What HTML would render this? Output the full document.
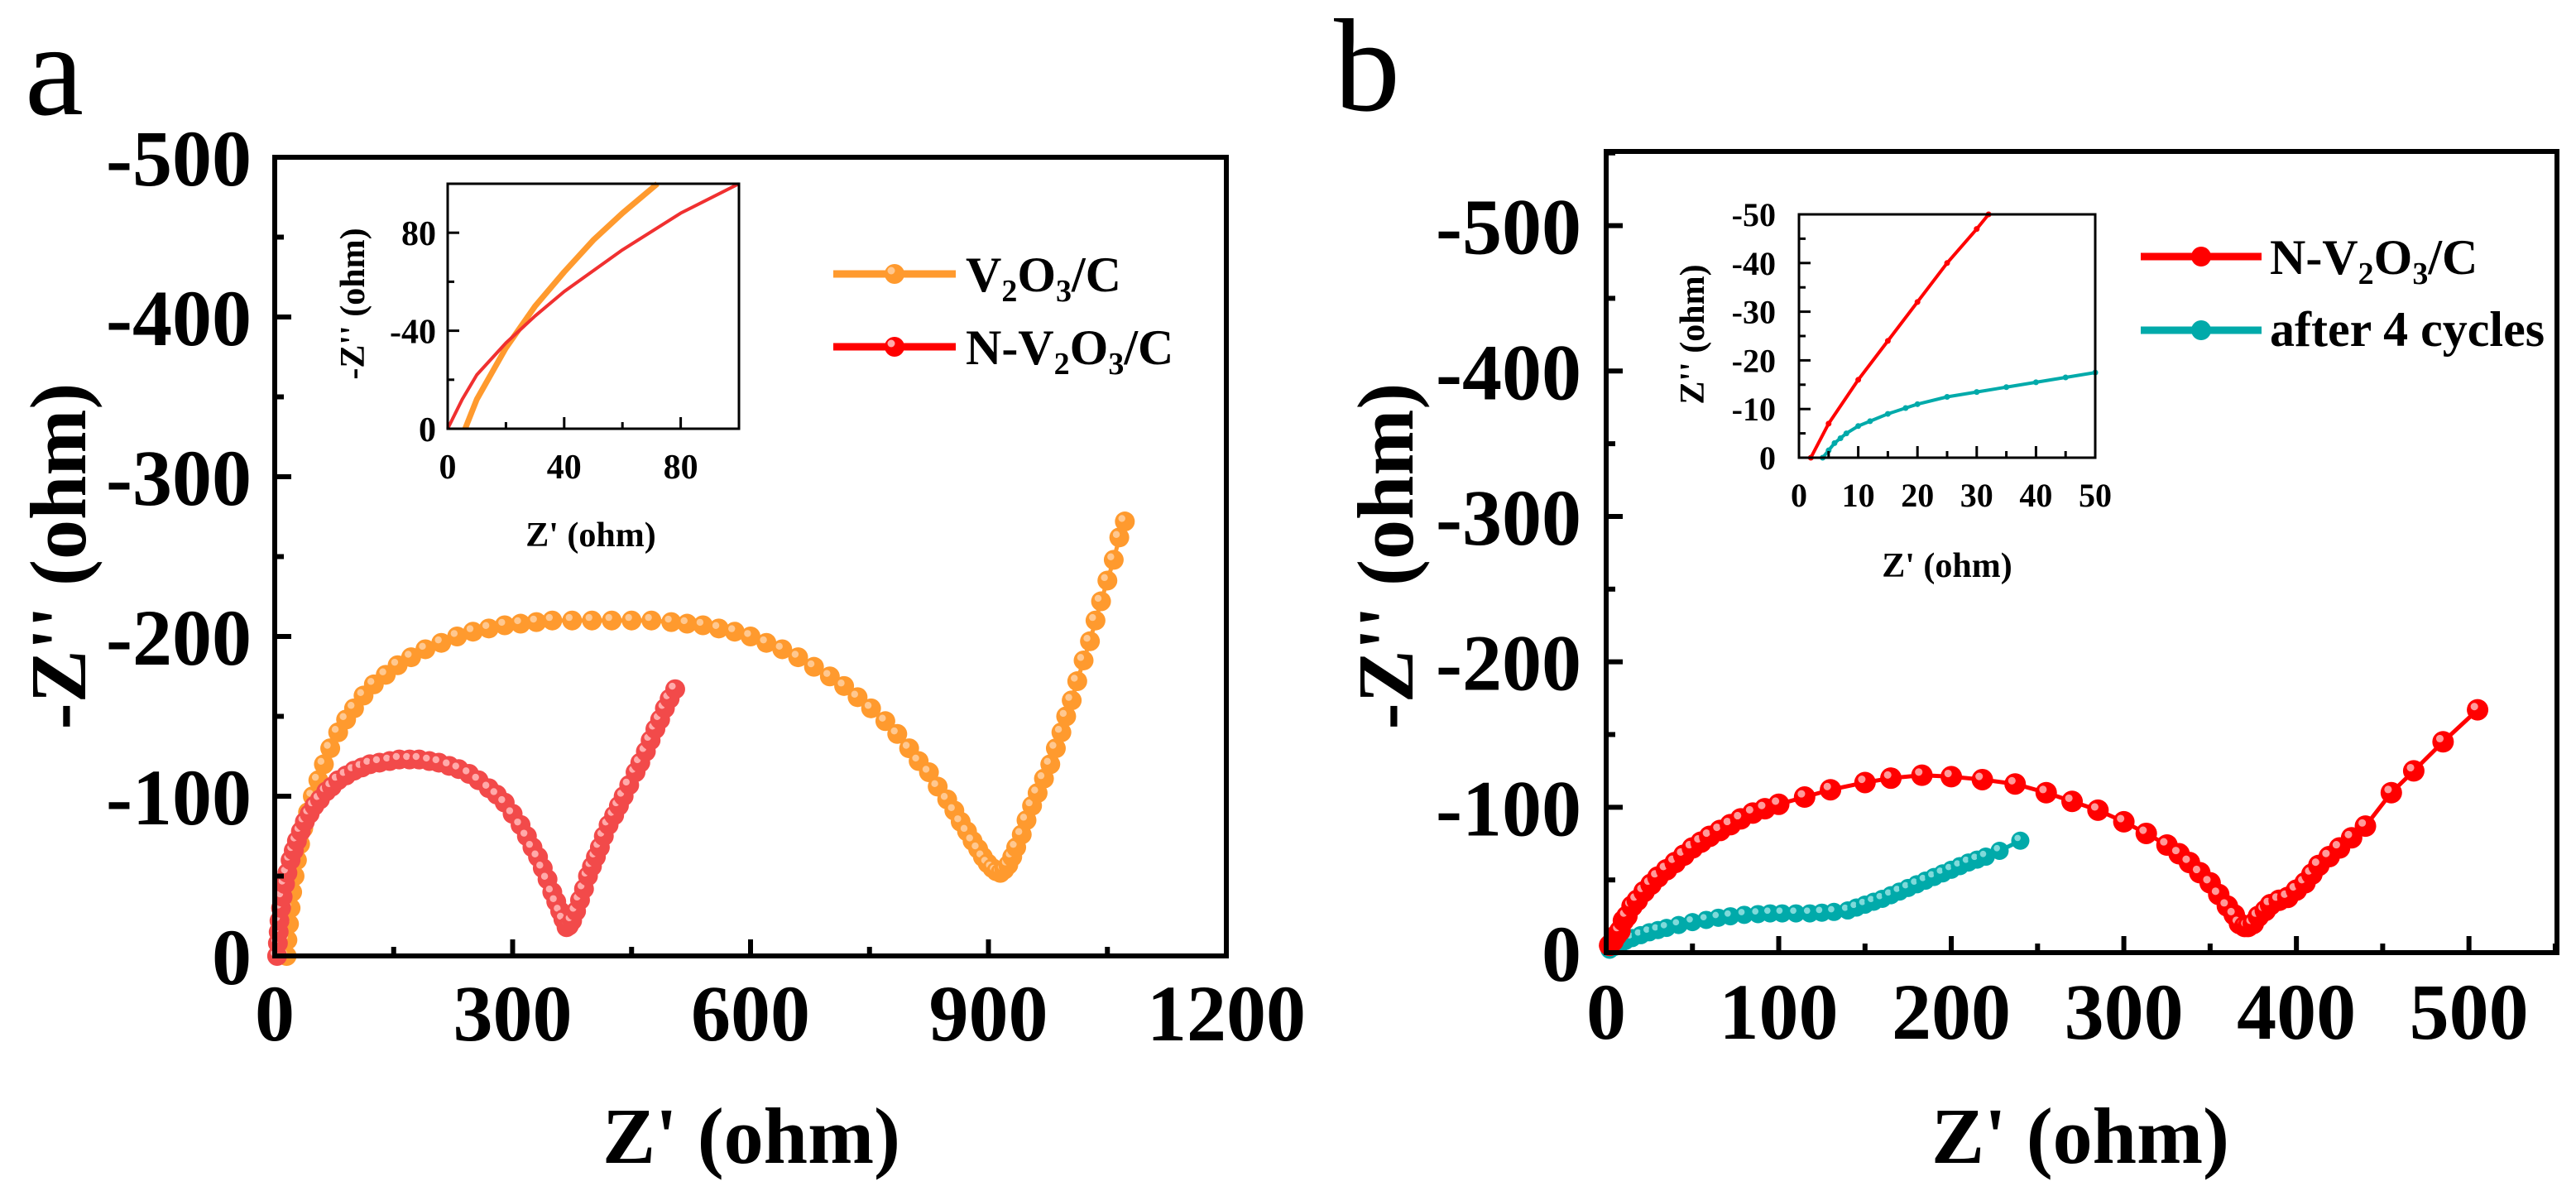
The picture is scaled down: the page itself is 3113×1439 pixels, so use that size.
<!DOCTYPE html>
<html><head><meta charset="utf-8">
<style>
html,body{margin:0;padding:0;background:#fff;}
svg{display:block;font-family:"Liberation Serif",serif;}
</style></head>
<body>
<svg id="fig" width="3113" height="1439" viewBox="0 0 3113 1439" xmlns="http://www.w3.org/2000/svg"></svg>
<script>
// ---- Panel a data ----
const aOrangeX = [15,16,18,20,22,25,28,32,36,42,48,55,62,70,80,90,100,112,125,140,155,172,190,210,230,250,270,290,310,330,350,375,400,425,450,475,500,520,540,560,580,600,620,640,660,680,700,718,735,752,770,785,800,812,825,836,848,857,865,873,880,887,893,899,905,910,915,920,925,930,935,942,948,955,962,970,978,985,992,998,1005,1012,1020,1028,1035,1042,1050,1058,1065,1072];
const aOrangeY = [0,10,20,30,40,50,60,70,80,90,100,110,120,130,140,148,155,163,170,176,182,187,192,196,200,203,205,207,208,209,210,210,210,210,210,210,209,208,207,205,203,200,196,192,187,181,175,169,162,155,147,139,130,122,115,106,98,91,84,78,72,67,62,58,55,53,52,54,57,62,68,76,85,94,102,111,120,130,140,150,160,172,185,197,210,222,235,248,262,272];
const aRedX = [3,4,5,6,8,10,13,16,20,24,28,33,38,44,50,57,65,72,80,90,100,110,120,132,145,157,170,182,195,207,220,232,245,257,270,280,290,300,310,318,325,332,338,344,350,355,360,364,368,371,375,380,385,390,395,400,405,410,415,421,428,434,440,447,455,461,468,474,480,486,492,498,505];
const aRedY = [0,8,15,22,30,37,45,52,60,66,72,78,84,89,94,98,103,106,110,113,116,118,120,121,122,123,123,123,122,121,119,117,114,110,105,101,96,89,82,75,68,62,55,48,40,34,28,23,18,19,22,28,35,42,50,56,62,68,75,82,88,94,100,107,115,121,128,135,142,148,155,161,167];
const aInsetRedX = [0,5,10,20,30,40,60,80,100];
const aInsetRedY = [0,12,22,35,46,56,73,88,100];
const aInsetOrangeX = [6,10,20,30,40,50,60,72];
const aInsetOrangeY = [0,12,33,50,64,77,88,100];
const aXTicks = [0,300,600,900,1200];
const aYTicks = [0,100,200,300,400,500];
const aYTickLabels = ["0","-100","-200","-300","-400","-500"];
// ---- Panel b data ----
const bRedX = [2,4,6,8,10,12,15,18,22,26,30,35,40,45,50,55,60,66,72,78,85,92,100,115,130,150,165,183,200,218,237,255,270,285,300,313,325,332,338,344,350,355,360,364,367,370,372,375,378,382,385,390,395,400,405,409,413,419,425,432,440,455,468,485,505];
const bRedY = [5,8,12,15,22,25,32,36,42,47,52,57,62,67,72,76,80,84,88,92,96,99,102,107,112,117,120,122,121,119,116,110,104,98,90,82,74,68,62,55,48,40,32,26,20,18,18,20,25,29,33,36,38,43,48,54,60,66,72,79,87,110,125,145,167];
const bTealX = [2,5,8,11,15,20,25,30,35,42,50,58,65,72,80,88,95,102,110,118,125,132,140,145,150,155,160,165,170,175,180,185,190,195,200,205,210,215,220,228,240];
const bTealY = [2,4,6,8,10,12,14,15.5,17,19,21,22.5,24,25,26,26.5,27,27,27,27,27.5,28,29,31,33,35,37,39.5,42,44.5,47,49.5,52,54.5,57,59.5,62,64,66,70,77];
const bInsetRedX = [2,5,10,15,20,25,30,32];
const bInsetRedY = [0,7,16,24,32,40,47,50];
const bInsetTealX = [4,5,6,7,8,10,12,15,18,20,25,30,35,40,45,50];
const bInsetTealY = [0,1.5,3,4,5,6.5,7.5,9,10.2,11,12.5,13.5,14.5,15.5,16.5,17.5];
const bXTicks = [0,100,200,300,400,500];
const bYTicks = [0,100,200,300,400,500];
const bYTickLabels = ["0","-100","-200","-300","-400","-500"];

const NS = "http://www.w3.org/2000/svg";
const svg = document.getElementById('fig');
function el(tag, attrs, parent, text){
  const e = document.createElementNS(NS, tag);
  for (const k in attrs) e.setAttribute(k, attrs[k]);
  if (text !== undefined) e.textContent = text;
  (parent||svg).appendChild(e);
  return e;
}
function scale(d0,d1,p0,p1){ return v => p0 + (v-d0)/(d1-d0)*(p1-p0); }

function frame(g, L,R,T,B, sx, sy, xmaj, xmin, ymaj, ymin, majLen, minLen, sw){
  xmin.forEach(v=>{ const t=el('line',{x1:sx(v),x2:sx(v),y1:B,y2:B-minLen,stroke:'#000','stroke-width':sw},g);
      });
  xmaj.forEach(v=>{ const t=el('line',{x1:sx(v),x2:sx(v),y1:B,y2:B-majLen,stroke:'#000','stroke-width':sw},g);
      });
  ymin.forEach(v=>{ const t=el('line',{x1:L,x2:L+minLen,y1:sy(v),y2:sy(v),stroke:'#000','stroke-width':sw},g);
      });
  ymaj.forEach(v=>{ const t=el('line',{x1:L,x2:L+majLen,y1:sy(v),y2:sy(v),stroke:'#000','stroke-width':sw},g);
      });
  const r = el('rect',{x:L,y:T,width:R-L,height:B-T,fill:'none',stroke:'#000','stroke-width':sw},g);
   
}
function series(g, xs, ys, sx, sy, color, light, lw, r, name){
  const sg = el('g',{},g);
   
  const pts = xs.map((x,i)=>sx(x)+','+sy(ys[i])).join(' ');
  el('polyline',{points:pts,fill:'none',stroke:color,'stroke-width':lw,'stroke-linejoin':'round'},sg);
  if (r>0) xs.forEach((x,i)=>{
    const c = el('circle',{cx:sx(x),cy:sy(ys[i]),r:r,fill:color},sg);
     
    el('circle',{cx:sx(x)-r*0.3,cy:sy(ys[i])-r*0.3,r:r*0.35,fill:light},sg);
  });
}
function rng(a,b,s){ const o=[]; for(let v=a; v<=b+1e-9; v+=s) o.push(v); return o; }

const ORANGE='#ff9a2e', RED='#ff0000', PINK='#f24a4a', TEAL='#00aaaa';

// ================= Panel a =================
(function(){
  const g = el('g',{});  
  const L=332,R=1482,T=190,B=1155;
  const sx=scale(0,1200,L,R), sy=scale(0,500,B,T);
  const pl = el('text',{x:30,y:138,'font-size':160,fill:'#000'},g,'a');
   
  series(g,aOrangeX,aOrangeY,sx,sy,ORANGE,'#ffc890',5,12,'series-v2o3-c');
  series(g,aRedX,aRedY,sx,sy,PINK,'#ffaaaa',5,12,'series-n-v2o3-c');
  frame(g,L,R,T,B,sx,sy,aXTicks,rng(150,1050,300),aYTicks,rng(50,450,100),20,11,6);
  aXTicks.forEach(v=>{ const t=el('text',{x:sx(v),y:1257,'font-size':96,'font-weight':'bold','text-anchor':'middle'},g,String(v));
      });
  aYTicks.forEach((v,i)=>{ const t=el('text',{x:304,y:sy(v)+34,'font-size':96,'font-weight':'bold','text-anchor':'end'},g,aYTickLabels[i]);
      });
  const xt=el('text',{x:908,y:1405,'font-size':96,'font-weight':'bold','text-anchor':'middle'},g,"Z' (ohm)");
   
  const yt=el('text',{x:0,y:0,'font-size':96,'font-weight':'bold','text-anchor':'middle',transform:'translate(103,672) rotate(-90)'},g,"-Z'' (ohm)");
   
  // legend
  const lg = el('g',{},g);  
  [[331,ORANGE,'#ffc890','V','2','O','3','/C',''],[419,RED,'#ffaaaa','N-V','2','O','3','/C','n']].forEach(d=>{
    const e = el('g',{},lg);  
    el('line',{x1:1007,x2:1155,y1:d[0],y2:d[0],stroke:d[1],'stroke-width':9},e);
    el('circle',{cx:1081,cy:d[0],r:12,fill:d[1]},e);
    el('circle',{cx:1077,cy:d[0]-4,r:4.5,fill:d[2]},e);
    const t = el('text',{x:1167,y:d[0]+21,'font-size':60,'font-weight':'bold'},e);
    el('tspan',{},t,d[3]); el('tspan',{'font-size':38,dy:12},t,d[4]);
    el('tspan',{dy:-12},t,d[5]); el('tspan',{'font-size':38,dy:12},t,d[6]); el('tspan',{dy:-12},t,d[7]);
  });
  // inset
  const ig = el('g',{},g);  
  const iL=541,iR=893,iT=222,iB=518;
  const ix=scale(0,100,iL,iR), iy=scale(0,100,iB,iT);
  series(ig,aInsetOrangeX,aInsetOrangeY,ix,iy,ORANGE,ORANGE,7,0,'inset-series-v2o3-c');
  series(ig,aInsetRedX,aInsetRedY,ix,iy,'#f03030','#f03030',4,0,'inset-series-n-v2o3-c');
  frame(ig,iL,iR,iT,iB,ix,iy,[0,40,80],[20,60,100],[0,40,80],[20,60],14,8,3);
  [[0,'0'],[40,'40'],[80,'80']].forEach(d=>{ const t=el('text',{x:ix(d[0]),y:578,'font-size':42,'font-weight':'bold','text-anchor':'middle'},ig,d[1]);
      });
  [[0,'0'],[40,'-40'],[80,'80']].forEach(d=>{ const t=el('text',{x:527,y:iy(d[0])+15,'font-size':42,'font-weight':'bold','text-anchor':'end'},ig,d[1]);
      });
  const ixt=el('text',{x:714,y:660,'font-size':42,'font-weight':'bold','text-anchor':'middle'},ig,"Z' (ohm)");
   
  const iyt=el('text',{x:0,y:0,'font-size':42,'font-weight':'bold','text-anchor':'middle',transform:'translate(440,367) rotate(-90)'},ig,"-Z'' (ohm)");
   
})();

// ================= Panel b =================
(function(){
  const g = el('g',{});  
  const L=1941,R=3090,T=183,B=1151;
  const sx=scale(0,551,L,R), sy=scale(0,551,B,T);
  const pl = el('text',{x:1612,y:133,'font-size':160,fill:'#000'},g,'b');
   
  series(g,bTealX,bTealY,sx,sy,TEAL,'#7fdada',5,11,'series-after-4-cycles');
  series(g,bRedX,bRedY,sx,sy,RED,'#ff9a9a',5,13,'series-n-v2o3-c');
  frame(g,L,R,T,B,sx,sy,bXTicks,rng(50,550,100),bYTicks,rng(50,550,100),20,11,6);
  bXTicks.forEach(v=>{ const t=el('text',{x:sx(v),y:1255,'font-size':96,'font-weight':'bold','text-anchor':'middle'},g,String(v));
      });
  bYTicks.forEach((v,i)=>{ const t=el('text',{x:1911,y:sy(v)+34,'font-size':96,'font-weight':'bold','text-anchor':'end'},g,bYTickLabels[i]);
      });
  const xt=el('text',{x:2514,y:1405,'font-size':96,'font-weight':'bold','text-anchor':'middle'},g,"Z' (ohm)");
   
  const yt=el('text',{x:0,y:0,'font-size':96,'font-weight':'bold','text-anchor':'middle',transform:'translate(1707,672) rotate(-90)'},g,"-Z'' (ohm)");
   
  // legend
  const lg = el('g',{},g);  
  const e1 = el('g',{},lg);  
  el('line',{x1:2587,x2:2733,y1:310,y2:310,stroke:RED,'stroke-width':9},e1);
  el('circle',{cx:2660,cy:310,r:12,fill:RED},e1);
  const t1 = el('text',{x:2743,y:331,'font-size':60,'font-weight':'bold'},e1);
  el('tspan',{},t1,'N-V'); el('tspan',{'font-size':38,dy:12},t1,'2');
  el('tspan',{dy:-12},t1,'O'); el('tspan',{'font-size':38,dy:12},t1,'3'); el('tspan',{dy:-12},t1,'/C');
  const e2 = el('g',{},lg);  
  el('line',{x1:2587,x2:2733,y1:399,y2:399,stroke:TEAL,'stroke-width':9},e2);
  el('circle',{cx:2660,cy:399,r:12,fill:TEAL},e2);
  el('text',{x:2743,y:418,'font-size':60,'font-weight':'bold'},e2,'after 4 cycles');
  // inset
  const ig = el('g',{},g);  
  const iL=2174,iR=2532,iT=259,iB=553;
  const ix=scale(0,50,iL,iR), iy=scale(0,50,iB,iT);
  series(ig,bInsetTealX,bInsetTealY,ix,iy,TEAL,TEAL,4,3.5,'inset-series-after-4-cycles');
  series(ig,bInsetRedX,bInsetRedY,ix,iy,RED,RED,4,3.5,'inset-series-n-v2o3-c');
  frame(ig,iL,iR,iT,iB,ix,iy,rng(0,50,10),rng(5,45,10),rng(0,50,10),rng(5,45,10),14,8,3);
  rng(0,50,10).forEach(v=>{ const t=el('text',{x:ix(v),y:612,'font-size':40,'font-weight':'bold','text-anchor':'middle'},ig,String(v));
      });
  rng(0,50,10).forEach(v=>{ const t=el('text',{x:2146,y:iy(v)+14,'font-size':40,'font-weight':'bold','text-anchor':'end'},ig,v===0?'0':'-'+v);
      });
  const ixt=el('text',{x:2353,y:697,'font-size':42,'font-weight':'bold','text-anchor':'middle'},ig,"Z' (ohm)");
   
  const iyt=el('text',{x:0,y:0,'font-size':42,'font-weight':'bold','text-anchor':'middle',transform:'translate(2059,404) rotate(-90)'},ig,"Z'' (ohm)");
   
})();
</script>
</body></html>
